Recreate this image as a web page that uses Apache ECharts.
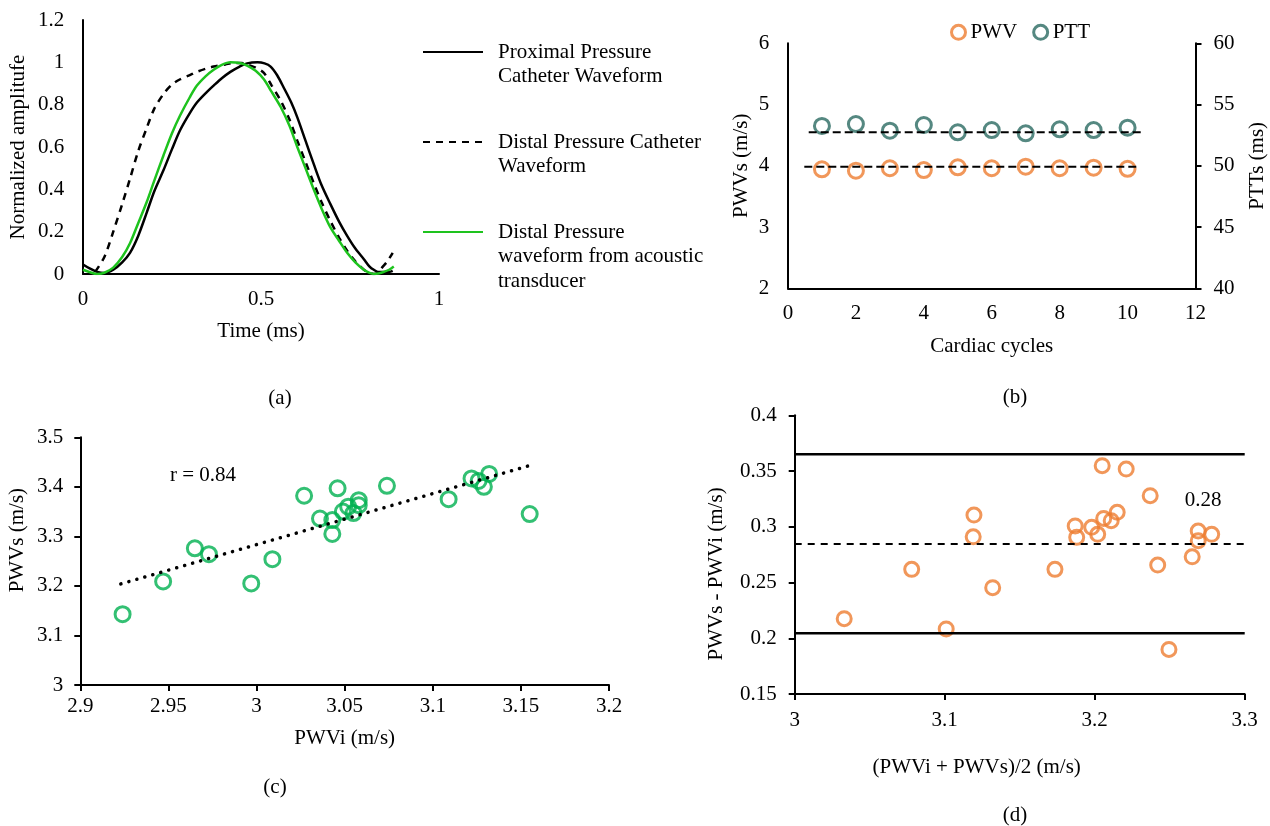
<!DOCTYPE html>
<html>
<head>
<meta charset="utf-8">
<script src="https://cdn.jsdelivr.net/npm/echarts@6/dist/echarts.min.js"></script>
<style>
html, body { margin: 0; padding: 0; background: #fff; }
#chart { width: 1270px; height: 826px; }
</style>
</head>
<body>
<div id="chart"></div>
<script>
// ---- (a) normalized waveforms ----
var proxTime = [0, 0.02, 0.04, 0.06, 0.085, 0.11, 0.132, 0.155, 0.179, 0.2, 0.226, 0.25, 0.273, 0.3, 0.32, 0.345, 0.367, 0.39, 0.414, 0.44, 0.461, 0.49, 0.51, 0.527, 0.545, 0.564, 0.585, 0.602, 0.625, 0.648, 0.67, 0.695, 0.72, 0.742, 0.765, 0.789, 0.805, 0.817, 0.83, 0.845, 0.86, 0.87];
var proxAmp = [0.045, 0.025, 0.01, 0.005, 0.02, 0.055, 0.1, 0.18, 0.29, 0.39, 0.49, 0.59, 0.68, 0.76, 0.81, 0.855, 0.89, 0.925, 0.955, 0.98, 0.995, 1.0, 0.995, 0.98, 0.94, 0.88, 0.81, 0.74, 0.63, 0.52, 0.42, 0.33, 0.245, 0.18, 0.12, 0.07, 0.035, 0.02, 0.01, 0.01, 0.01, 0.015];

var distTime = [0.034, 0.06, 0.085, 0.11, 0.132, 0.155, 0.179, 0.2, 0.226, 0.25, 0.273, 0.3, 0.32, 0.345, 0.367, 0.4, 0.423, 0.445, 0.461, 0.485, 0.508, 0.53, 0.555, 0.58, 0.602, 0.625, 0.648, 0.67, 0.695, 0.72, 0.742, 0.765, 0.789, 0.805, 0.817, 0.828, 0.84, 0.855, 0.87];
var distAmp = [0.01, 0.08, 0.2, 0.33, 0.45, 0.58, 0.69, 0.78, 0.85, 0.895, 0.92, 0.94, 0.955, 0.97, 0.98, 0.99, 0.997, 0.997, 0.99, 0.975, 0.95, 0.89, 0.82, 0.73, 0.63, 0.53, 0.43, 0.34, 0.25, 0.17, 0.11, 0.06, 0.02, 0.005, 0.0, 0.005, 0.03, 0.06, 0.1];

var acoTime = [0, 0.02, 0.038, 0.06, 0.085, 0.11, 0.132, 0.155, 0.179, 0.2, 0.226, 0.25, 0.273, 0.3, 0.32, 0.345, 0.367, 0.39, 0.414, 0.44, 0.461, 0.485, 0.508, 0.53, 0.555, 0.58, 0.602, 0.625, 0.648, 0.67, 0.695, 0.72, 0.742, 0.765, 0.789, 0.805, 0.817, 0.83, 0.845, 0.86, 0.873];
var acoAmp = [0.02, 0.008, 0.0, 0.006, 0.03, 0.08, 0.145, 0.24, 0.34, 0.44, 0.56, 0.665, 0.75, 0.835, 0.89, 0.935, 0.965, 0.988, 1.0, 0.997, 0.985, 0.96, 0.92, 0.86, 0.79, 0.7, 0.6, 0.5, 0.4, 0.31, 0.22, 0.155, 0.1, 0.055, 0.02, 0.005, 0.0, 0.002, 0.01, 0.02, 0.035];

// ---- (b) PWV / PTT per cardiac cycle ----
var cycles = [1, 2, 3, 4, 5, 6, 7, 8, 9, 10];
var pwvValues = [3.943, 3.92, 3.96, 3.93, 3.975, 3.96, 3.985, 3.96, 3.97, 3.95];
var pttValues = [53.25, 53.41, 52.87, 53.33, 52.73, 52.92, 52.65, 52.98, 52.92, 53.11];
var pwvMeanX = [0.48, 10.28];
var pwvMean = 3.985;
var pttMeanX = [0.61, 10.41];
var pttMean = 52.73;

// ---- (c) PWVs vs PWVi ----
var pwviC = [2.924, 2.947, 2.965, 2.973, 2.997, 3.009, 3.027, 3.036, 3.043, 3.043, 3.046, 3.049, 3.052, 3.055, 3.058, 3.058, 3.074, 3.109, 3.122, 3.126, 3.129, 3.132, 3.155];
var pwvsC = [3.143, 3.209, 3.276, 3.264, 3.205, 3.254, 3.382, 3.336, 3.305, 3.333, 3.397, 3.35, 3.36, 3.347, 3.373, 3.363, 3.402, 3.375, 3.417, 3.412, 3.4, 3.426, 3.345];
var trendX = [2.923, 3.154];
var trendY = [3.204, 3.442];

// ---- (d) Bland-Altman ----
var baMean = [3.033, 3.078, 3.101, 3.1195, 3.119, 3.132, 3.1735, 3.187, 3.188, 3.198, 3.202, 3.205, 3.206, 3.211, 3.215, 3.221, 3.237, 3.242, 3.2495, 3.265, 3.269, 3.269, 3.278];
var baDiff = [0.2176, 0.2618, 0.2083, 0.3105, 0.291, 0.2454, 0.2618, 0.3007, 0.2905, 0.2995, 0.2932, 0.3548, 0.3075, 0.3055, 0.313, 0.3518, 0.3279, 0.2657, 0.19, 0.2731, 0.2962, 0.2875, 0.2932];
var baLineX = [3, 3.3];
var upperLoA = 0.365;
var meanDiff = 0.2845;
var lowerLoA = 0.2045;

var FONT = 'Liberation Serif';
var ORANGE = '#ED7D31';
var TEAL = '#2a6a62';
var GREEN_C = '#00B050';
var GREEN_A = '#1ec31e';

var nameProx = 'Proximal Pressure Catheter Waveform';
var nameDist = 'Distal Pressure Catheter Waveform';
var nameAco = 'Distal Pressure waveform from acoustic transducer';
var legendLabels = {};
legendLabels[nameProx] = '\nProximal Pressure\nCatheter Waveform';
legendLabels[nameDist] = '\nDistal Pressure Catheter\nWaveform';
legendLabels[nameAco] = '\n\nDistal Pressure\nwaveform from acoustic\ntransducer';

function pairs(xs, ys) {
    return xs.map(function (x, i) { return [x, ys[i]]; });
}
function flat(xs, v) {
    return xs.map(function (x) { return [x, v]; });
}

var axisLine = { show: true, lineStyle: { color: '#000', width: 2 } };
var labelStyle = { color: '#000', fontFamily: FONT, fontSize: 21 };
var nameStyle = { color: '#000', fontFamily: FONT, fontSize: 21 };
var tickOut = { show: true, length: 6, lineStyle: { color: '#000', width: 2 } };

function legendA(name, top) {
    return {
        data: [name],
        left: 422,
        top: top,
        padding: 0,
        orient: 'vertical',
        itemWidth: 60,
        itemHeight: 14,
        selectedMode: false,
        // line only, no symbol dot in the icon
        itemStyle: { color: 'rgba(0,0,0,0)', borderColor: 'rgba(0,0,0,0)', borderWidth: 0 },
        formatter: function (n) { return legendLabels[n]; },
        textStyle: { color: '#000', fontFamily: FONT, fontSize: 21, lineHeight: 24.5, padding: [7, 0, 0, 10] }
    };
}

function text(x, y, str) {
    return {
        type: 'text', x: x, y: y, silent: true,
        style: { text: str, font: '21px "Liberation Serif"', fill: '#000', align: 'center', verticalAlign: 'middle' }
    };
}

var chart = echarts.init(document.getElementById('chart'));

var option = {
    animation: false,
    backgroundColor: '#fff',
    textStyle: { fontFamily: FONT },
    grid: [
        { left: 83, right: 831, top: 20, bottom: 552, outerBoundsMode: 'none' },
        { left: 788, right: 74.5, top: 43.3, bottom: 537.7, outerBoundsMode: 'none' },
        { left: 80.3, right: 661, top: 437.3, bottom: 141, outerBoundsMode: 'none' },
        { left: 794.7, right: 25.3, top: 415.3, bottom: 132, outerBoundsMode: 'none' }
    ],
    legend: [
        legendA(nameProx, 11.75),
        legendA(nameDist, 101.75),
        legendA(nameAco, 167.25),
        {
            data: ['PWV', 'PTT'],
            left: 950,
            top: 21.8,
            padding: 0,
            itemWidth: 14,
            itemHeight: 14,
            itemGap: 15,
            icon: 'circle',
            selectedMode: false,
            itemStyle: { borderWidth: 3 },
            textStyle: { color: '#000', fontFamily: FONT, fontSize: 21, lineHeight: 21 }
        }
    ],
    xAxis: [
        {
            gridIndex: 0, type: 'value', min: 0, max: 1, interval: 0.5,
            name: 'Time (ms)', nameLocation: 'middle', nameGap: 47, nameTextStyle: nameStyle,
            axisLine: axisLine, axisTick: { show: false }, splitLine: { show: false },
            axisLabel: Object.assign({ margin: 15 }, labelStyle)
        },
        {
            gridIndex: 1, type: 'value', min: 0, max: 12, interval: 2,
            name: 'Cardiac cycles', nameLocation: 'middle', nameGap: 48, nameTextStyle: nameStyle,
            axisLine: axisLine, axisTick: { show: false }, splitLine: { show: false },
            axisLabel: Object.assign({ margin: 14.5 }, labelStyle)
        },
        {
            gridIndex: 2, type: 'value', min: 2.9, max: 3.2, interval: 0.05,
            name: 'PWVi (m/s)', nameLocation: 'middle', nameGap: 42.5, nameTextStyle: nameStyle,
            axisLine: axisLine, axisTick: tickOut, splitLine: { show: false },
            axisLabel: Object.assign({ margin: 11 }, labelStyle)
        },
        {
            gridIndex: 3, type: 'value', min: 3, max: 3.3, interval: 0.1,
            name: '(PWVi + PWVs)/2 (m/s)', nameLocation: 'middle', nameGap: 62.8,
            nameTextStyle: Object.assign({ padding: [0, 86, 0, 0] }, nameStyle),
            axisLine: axisLine, axisTick: tickOut, splitLine: { show: false },
            axisLabel: Object.assign({ margin: 15.5 }, labelStyle)
        }
    ],
    yAxis: [
        {
            gridIndex: 0, type: 'value', min: 0, max: 1.2, interval: 0.2,
            name: 'Normalized amplitufe', nameLocation: 'middle', nameGap: 54.5, nameTextStyle: nameStyle,
            axisLine: axisLine, axisTick: { show: false }, splitLine: { show: false },
            axisLabel: Object.assign({ margin: 18.7 }, labelStyle)
        },
        {
            gridIndex: 1, type: 'value', min: 2, max: 6, interval: 1, position: 'left',
            name: 'PWVs (m/s)', nameLocation: 'middle', nameGap: 36, nameTextStyle: nameStyle,
            axisLine: axisLine, axisTick: { show: false }, splitLine: { show: false },
            axisLabel: Object.assign({ margin: 18.7 }, labelStyle)
        },
        {
            gridIndex: 1, type: 'value', min: 40, max: 60, interval: 5, position: 'right',
            name: 'PTTs (ms)', nameLocation: 'middle', nameGap: 51, nameTextStyle: nameStyle,
            axisLine: axisLine, axisTick: tickOut, splitLine: { show: false },
            axisLabel: Object.assign({ margin: 18 }, labelStyle)
        },
        {
            gridIndex: 2, type: 'value', min: 3, max: 3.5, interval: 0.1,
            name: 'PWVs (m/s)', nameLocation: 'middle', nameGap: 52,
            nameTextStyle: Object.assign({ padding: [0, 0, 0, 42] }, nameStyle),
            axisLine: axisLine, axisTick: tickOut, splitLine: { show: false },
            axisLabel: Object.assign({ margin: 17 }, labelStyle)
        },
        {
            gridIndex: 3, type: 'value', min: 0.15, max: 0.4, interval: 0.05,
            name: 'PWVs - PWVi (m/s)', nameLocation: 'middle', nameGap: 68,
            nameTextStyle: Object.assign({ padding: [0, 38.6, 0, 0] }, nameStyle),
            axisLine: axisLine, axisTick: tickOut, splitLine: { show: false },
            axisLabel: Object.assign({ margin: 18 }, labelStyle)
        }
    ],
    graphic: [
        text(280, 398, '(a)'),
        text(1015, 397, '(b)'),
        text(275, 787, '(c)'),
        text(1015, 815, '(d)'),
        text(203, 475, 'r = 0.84'),
        text(1203, 500, '0.28')
    ],
    series: [
        // (a)
        {
            name: nameProx, type: 'line', xAxisIndex: 0, yAxisIndex: 0,
            data: pairs(proxTime, proxAmp), symbol: 'none', smooth: 0.3,
            itemStyle: { color: '#000' }, lineStyle: { color: '#000', width: 2.5 }
        },
        {
            name: nameDist, type: 'line', xAxisIndex: 0, yAxisIndex: 0,
            data: pairs(distTime, distAmp), symbol: 'none', smooth: 0.3,
            itemStyle: { color: '#000' }, lineStyle: { color: '#000', width: 2.5, type: [7, 6] }
        },
        {
            name: nameAco, type: 'line', xAxisIndex: 0, yAxisIndex: 0,
            data: pairs(acoTime, acoAmp), symbol: 'none', smooth: 0.3,
            itemStyle: { color: GREEN_A }, lineStyle: { color: GREEN_A, width: 2.5 }
        },
        // (b)
        {
            name: 'pwvMean', type: 'line', xAxisIndex: 1, yAxisIndex: 1, silent: true,
            data: flat(pwvMeanX, pwvMean), symbol: 'none',
            lineStyle: { color: '#000', width: 2, type: [8, 4] }
        },
        {
            name: 'pttMean', type: 'line', xAxisIndex: 1, yAxisIndex: 2, silent: true,
            data: flat(pttMeanX, pttMean), symbol: 'none',
            lineStyle: { color: '#000', width: 2, type: [8, 4] }
        },
        {
            name: 'PWV', type: 'scatter', xAxisIndex: 1, yAxisIndex: 1,
            data: pairs(cycles, pwvValues), symbol: 'circle', symbolSize: 15,
            itemStyle: { color: 'rgba(255,255,255,0)', borderColor: ORANGE, borderWidth: 3 }
        },
        {
            name: 'PTT', type: 'scatter', xAxisIndex: 1, yAxisIndex: 2,
            data: pairs(cycles, pttValues), symbol: 'circle', symbolSize: 15,
            itemStyle: { color: 'rgba(255,255,255,0)', borderColor: TEAL, borderWidth: 3 }
        },
        // (c)
        {
            name: 'trend', type: 'line', xAxisIndex: 2, yAxisIndex: 3, silent: true,
            data: pairs(trendX, trendY), symbol: 'none',
            lineStyle: { color: '#000', width: 3.5, type: [0.1, 8.2], cap: 'round' }
        },
        {
            name: 'PWVs vs PWVi', type: 'scatter', xAxisIndex: 2, yAxisIndex: 3,
            data: pairs(pwviC, pwvsC), symbol: 'circle', symbolSize: 15,
            itemStyle: { color: 'rgba(255,255,255,0)', borderColor: GREEN_C, borderWidth: 3 }
        },
        // (d)
        {
            name: 'upper', type: 'line', xAxisIndex: 3, yAxisIndex: 4, silent: true,
            data: flat(baLineX, upperLoA), symbol: 'none',
            lineStyle: { color: '#000', width: 2.5 }
        },
        {
            name: 'mean', type: 'line', xAxisIndex: 3, yAxisIndex: 4, silent: true,
            data: flat(baLineX, meanDiff), symbol: 'none',
            lineStyle: { color: '#000', width: 2, type: [7, 6] }
        },
        {
            name: 'lower', type: 'line', xAxisIndex: 3, yAxisIndex: 4, silent: true,
            data: flat(baLineX, lowerLoA), symbol: 'none',
            lineStyle: { color: '#000', width: 2.5 }
        },
        {
            name: 'difference', type: 'scatter', xAxisIndex: 3, yAxisIndex: 4,
            data: pairs(baMean, baDiff), symbol: 'circle', symbolSize: 14,
            itemStyle: { color: 'rgba(255,255,255,0)', borderColor: ORANGE, borderWidth: 3 }
        }
    ]
};

chart.setOption(option);
</script>
</body>
</html>
